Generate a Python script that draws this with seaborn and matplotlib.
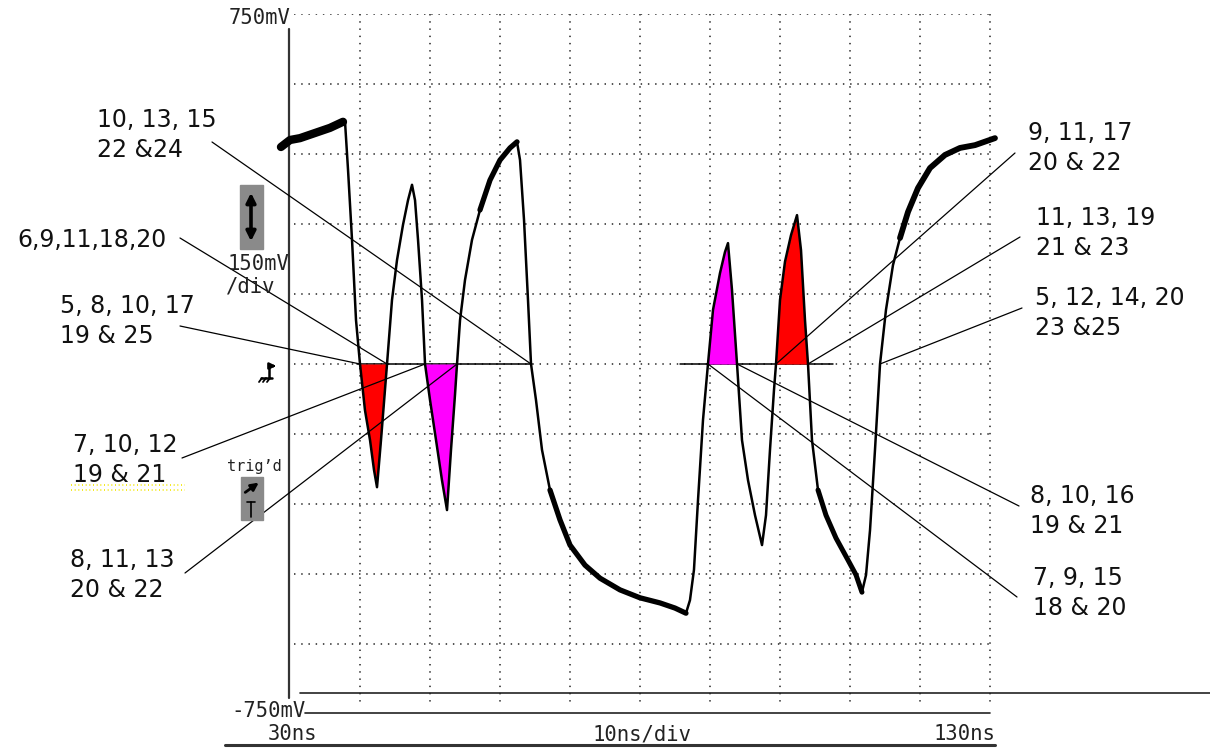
import numpy as np
import matplotlib
matplotlib.use("Agg")
import matplotlib.pyplot as plt
import seaborn as sns
from matplotlib.patches import Rectangle

# waveform: time (ns) and voltage (mV)
time_ns = [28.71, 30.0, 31.43, 33.57, 35.71, 37.57,
           37.86, 38.29, 38.86, 39.43, 40.0, 40.71, 41.43, 42.0, 42.43,
           43.0, 43.86, 44.57, 45.29, 46.14, 46.86, 47.43,
           47.86, 48.29, 48.86, 49.29, 50.0, 50.86, 51.71, 52.43,
           53.0, 53.57, 53.86, 54.29, 55.0, 56.0, 57.14, 58.57, 60.0, 61.43, 62.43,
           62.86, 63.43, 64.0, 64.43, 65.14, 66.0, 67.14, 68.57, 70.0, 72.14, 74.29,
           77.14, 80.0, 82.86, 85.0, 86.57,
           87.14, 87.71, 88.29, 89.0, 89.71, 90.43, 91.43, 92.14, 92.57,
           93.14, 93.86, 94.57, 95.43, 96.43, 97.43,
           98.0, 98.57, 99.14, 99.43, 100.0, 100.71, 101.57, 102.43,
           103.0, 103.57, 104.0, 104.57, 105.43, 106.57, 108.0, 109.71, 110.86, 111.71,
           112.29, 112.86, 113.57, 114.29, 115.14, 116.14, 117.14, 118.29, 119.71,
           121.43, 123.57, 125.71, 127.86, 130.71]
volt_mv = [465, 480, 484, 495, 506, 519,
           519, 416, 266, 94, 0, -99, -163, -227, -264,
           -163, 0, 137, 223, 298, 351, 384,
           351, 266, 137, 0, -77, -163, -249, -313,
           -184, -66, 0, 94, 180, 266, 330, 394, 437, 463, 476,
           437, 309, 137, 0, -77, -184, -270, -334, -388, -431, -459,
           -484, -501, -512, -523, -534,
           -506, -441, -291, -120, 0, 116, 195, 240, 259,
           159, 0, -163, -249, -324, -388,
           -324, -184, -56, 0, 137, 219, 276, 319,
           244, 94, 0, -163, -270, -324, -373, -420, -452, -489,
           -452, -356, -184, 0, 116, 212, 270, 326, 377,
           420, 448, 463, 469, 484]

# shaded lobes: (start ns, end ns, colour)
lobes = [(40.0, 43.86, "#ff0000"), (49.29, 53.86, "#ff00ff"),
         (89.71, 93.86, "#ff00ff"), (99.43, 104.0, "#ff0000")]

# callout labels and the zero crossing each points at
left_labels = ["10, 13, 15\n22 &24", "6,9,11,18,20", "5, 8, 10, 17\n19 & 25",
               "7, 10, 12\n19 & 21", "8, 11, 13\n20 & 22"]
left_cross = [64.43, 43.86, 40.0, 49.29, 53.86]
right_labels = ["9, 11, 17\n20 & 22", "11, 13, 19\n21 & 23", "5, 12, 14, 20\n23 &25",
                "8, 10, 16\n19 & 21", "7, 9, 15\n18 & 20"]
right_cross = [99.43, 104.0, 114.29, 93.86, 89.71]

W, H = 1210, 749
sns.set_theme(style="white")
plt.rcParams['font.family'] = ['DejaVu Sans']

fig = plt.figure(figsize=(W / 100, H / 100), dpi=100)
ax = fig.add_axes([290 / W, 35 / H, 700 / W, 700 / H])
ax.set_xlim(30, 130)
ax.set_ylim(-750, 750)
ax.set_xticks([])
ax.set_yticks([])
for s in ax.spines.values():
    s.set_visible(False)


def P(x, y):
    # image pixel -> data coords
    return 30 + (x - 290) / 7, (364 - y) * 15 / 7


def seg(p0, p1, **kw):
    a, b = P(*p0), P(*p1)
    ax.plot([a[0], b[0]], [a[1], b[1]], clip_on=False, **kw)


# dotted graticule
dot = dict(color="#444444", lw=1.3, ls=(0, (0.8, 3.2)), zorder=1)
for gx in range(40, 131, 10):
    ax.plot([gx, gx], [750, P(0, 706)[1]], clip_on=False, **dot)
for gy in range(-600, 751, 150):
    ax.plot([30.6, 130], [gy, gy], **dot)

# solid frame bits
seg((289, 29), (289, 698), color="#333333", lw=1.6)
seg((300, 693), (1210, 693), color="#222222", lw=1.2)
seg((305, 713), (990, 713), color="#222222", lw=1.2)
seg((225, 745), (995, 745), color="#333333", lw=2.2)
seg((357, 364), (532, 364), color="black", lw=1.1, zorder=2)
seg((680, 364), (833, 364), color="black", lw=1.1, zorder=2)

t = np.array(time_ns)
v = np.array(volt_mv)
for a, b, c in lobes:
    m = (t >= a) & (t <= b)
    ax.fill_between(t[m], v[m], 0, color=c, lw=0, zorder=2)

sns.lineplot(x=t, y=v, sort=False, estimator=None, color="black", lw=1.8, ax=ax, zorder=4)
# noisy stretches drawn heavier
for a, b, w in [(28.0, 37.6, 6.0), (57.0, 62.5, 3.8), (67.0, 86.6, 3.8),
                (105.4, 111.8, 3.6), (117.0, 131.0, 4.2)]:
    m = (t >= a) & (t <= b)
    ax.plot(t[m], v[m], color="black", lw=w, zorder=4, clip_on=False,
            solid_capstyle="round", solid_joinstyle="round")

# callouts
txt = dict(fontsize=17, color="#111111", va="baseline")
left_pos = [(97, 127, 212, 142, "left"), (167, 247, 180, 238, "right"),
            (60, 313, 180, 326, "left"), (73, 452, 182, 458, "left"),
            (70, 567, 185, 573, "left")]
right_pos = [(1028, 140, 1015, 153, "left"), (1036, 225, 1020, 237, "left"),
             (1035, 305, 1022, 308, "left"), (1030, 503, 1019, 506, "left"),
             (1033, 585, 1017, 597, "left")]
for lab, cx, (x, y, lx, ly, ha) in zip(left_labels + right_labels, left_cross + right_cross,
                                       left_pos + right_pos):
    for i, line in enumerate(lab.split("\n")):
        ax.text(*P(x, y + 30 * i), line, ha=ha, clip_on=False, **txt)
    ax.plot([P(lx, ly)[0], cx], [P(lx, ly)[1], 0], color="black", lw=0.9,
            clip_on=False, zorder=3)

# yellow dotted smear under "19 & 21"
for yy in (485, 490):
    seg((71, yy), (185, yy), color="#f2e600", lw=1.2, ls=(0, (0.6, 1.6)))

# scope readouts
mono = dict(family="DejaVu Sans Mono", fontsize=14.8, color="#222222", va="baseline")
ax.text(*P(291, 24), "750mV", ha="right", clip_on=False, **mono)
ax.text(*P(306, 717), "-750mV", ha="right", clip_on=False, **mono)
ax.text(*P(268, 740), "30ns", ha="left", clip_on=False, **mono)
ax.text(*P(593, 740), "10ns/div", ha="left", clip_on=False, **mono)
ax.text(*P(995, 740), "130ns", ha="right", clip_on=False, **mono)
ax.text(*P(227, 270), "150mV", ha="left", clip_on=False, **mono)
ax.text(*P(226, 293), "/div", ha="left", clip_on=False, **mono)
ax.text(*P(227, 471), "trig\u2019d", ha="left", clip_on=False,
        **{**mono, "fontsize": 11})

# gray icon boxes
for (x0, y0, x1, y1) in [(240, 185, 263, 249), (241, 477, 263, 520)]:
    a, b = P(x0, y1), P(x1, y0)
    ax.add_patch(Rectangle(a, b[0] - a[0], b[1] - a[1], facecolor="#8a8a8a",
                           edgecolor="#8a8a8a", clip_on=False, zorder=3))
ax.annotate("", xy=P(251, 190), xytext=P(251, 244), annotation_clip=False,
            arrowprops=dict(arrowstyle="<|-|>", color="black", lw=2.6, mutation_scale=14), zorder=4)
ax.annotate("", xy=P(261, 481), xytext=P(243, 494), annotation_clip=False,
            arrowprops=dict(arrowstyle="-|>", color="black", lw=2.0, mutation_scale=11), zorder=4)
seg((251, 502), (251, 517), color="black", lw=1.2, zorder=4)
seg((247, 502), (255, 502), color="black", lw=1.2, zorder=4)

# ground marker
seg((261, 378), (272, 378), color="black", lw=1.8)
for hx in (262, 266, 270):
    seg((hx, 378), (hx - 3, 382), color="black", lw=1.3)
seg((269, 378), (269, 366), color="black", lw=1.8)
ax.annotate("", xy=P(279, 366), xytext=P(268, 366), annotation_clip=False,
            arrowprops=dict(arrowstyle="-|>", color="black", lw=1.8, mutation_scale=9))

fig.savefig("out.png", dpi=100, facecolor="white")
